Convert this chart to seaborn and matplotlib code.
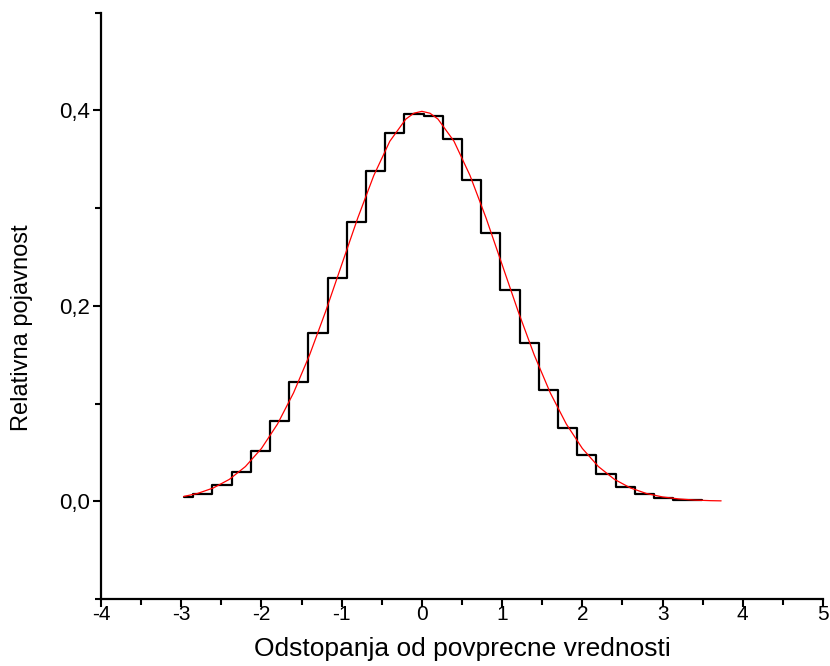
import matplotlib
matplotlib.use("Agg")
import matplotlib.pyplot as plt
import seaborn as sns
import pandas as pd
from matplotlib.ticker import FixedLocator, FixedFormatter

# Histogram (step, centred) data
hist_x = [-2.970, -2.731, -2.491, -2.252, -2.013, -1.774, -1.534, -1.295,
          -1.056, -0.816, -0.577, -0.338, -0.098, 0.141, 0.380, 0.620,
          0.859, 1.098, 1.337, 1.577, 1.816, 2.055, 2.295, 2.534,
          2.773, 3.013, 3.252, 3.491]
hist_y = [0.0042, 0.0078, 0.0170, 0.0300, 0.0513, 0.0817, 0.1220, 0.1720,
          0.2280, 0.2854, 0.3378, 0.3764, 0.3962, 0.3946, 0.3703, 0.3282,
          0.2742, 0.2164, 0.1617, 0.1140, 0.0752, 0.0469, 0.0274, 0.0144,
          0.0077, 0.0029, 0.0010, 0.0010]

# Fitted curve
fit_x = [-2.97, -2.8, -2.6, -2.4, -2.2, -2.0, -1.8, -1.6, -1.4, -1.2, -1.0,
         -0.8, -0.6, -0.4, -0.2, -0.1, 0.0, 0.1, 0.2, 0.4, 0.6, 0.8, 1.0,
         1.2, 1.4, 1.6, 1.8, 2.0, 2.2, 2.4, 2.6, 2.8, 3.0, 3.2, 3.4, 3.6, 3.73]
fit_y = [0.0049, 0.0079, 0.0136, 0.0224, 0.0355, 0.0540, 0.0790, 0.1109,
         0.1497, 0.1942, 0.2420, 0.2897, 0.3332, 0.3683, 0.3910, 0.3970,
         0.3989, 0.3970, 0.3910, 0.3683, 0.3332, 0.2897, 0.2420, 0.1942,
         0.1497, 0.1109, 0.0790, 0.0540, 0.0355, 0.0224, 0.0136, 0.0079,
         0.0044, 0.0024, 0.0012, 0.0006, 0.0004]

x_major = [-4, -3, -2, -1, 0, 1, 2, 3, 4, 5]
x_labels = ["-4", "-3", "-2", "-1", "0", "1", "2", "3", "4", "5"]
x_minor = [-3.5, -2.5, -1.5, -0.5, 0.5, 1.5, 2.5, 3.5, 4.5]
y_major = [0.0, 0.2, 0.4]
y_labels = ["0,0", "0,2", "0,4"]
y_minor = [-0.1, 0.1, 0.3, 0.5]

sns.set_style("ticks")
plt.rcParams['font.family'] = ['Liberation Sans', 'DejaVu Sans']
plt.rcParams['text.color'] = 'black'
plt.rcParams['axes.labelcolor'] = 'black'
plt.rcParams['xtick.color'] = 'black'
plt.rcParams['ytick.color'] = 'black'

fig = plt.figure(figsize=(8.3, 6.66), dpi=100)
ax = fig.add_axes([0.1217, 0.1006, 0.8699, 0.8806])

hist_df = pd.DataFrame({"x": hist_x, "y": hist_y})
fit_df = pd.DataFrame({"x": fit_x, "y": fit_y})

sns.lineplot(data=hist_df, x="x", y="y", ax=ax, color="black", lw=1.6,
             drawstyle="steps-mid", sort=False)
sns.lineplot(data=fit_df, x="x", y="y", ax=ax, color="#ff0000", lw=0.9,
             sort=False)

ax.set_xlim(-4, 5)
ax.set_ylim(-0.1, 0.5)

ax.xaxis.set_major_locator(FixedLocator(x_major))
ax.xaxis.set_major_formatter(FixedFormatter(x_labels))
ax.xaxis.set_minor_locator(FixedLocator(x_minor))
ax.yaxis.set_major_locator(FixedLocator(y_major))
ax.yaxis.set_major_formatter(FixedFormatter(y_labels))
ax.yaxis.set_minor_locator(FixedLocator(y_minor))

ax.tick_params(axis="both", which="major", direction="out", length=6,
               width=1.5, labelsize=15, color="black", labelcolor="black")
ax.tick_params(axis="x", which="major", pad=-2)
ax.tick_params(axis="y", which="major", pad=2, labelsize=16)
ax.tick_params(axis="both", which="minor", direction="out", length=4,
               width=1.5, color="black")

for side in ["top", "right"]:
    ax.spines[side].set_visible(False)
for side in ["left", "bottom"]:
    ax.spines[side].set_linewidth(1.6)
    ax.spines[side].set_color("black")

ax.set_xlabel("Odstopanja od povprecne vrednosti", fontsize=19, labelpad=10)
ax.set_ylabel("Relativna pojavnost", fontsize=17)
ax.yaxis.set_label_coords(-0.094, 0.462)

fig.savefig("out.png", dpi=100)
